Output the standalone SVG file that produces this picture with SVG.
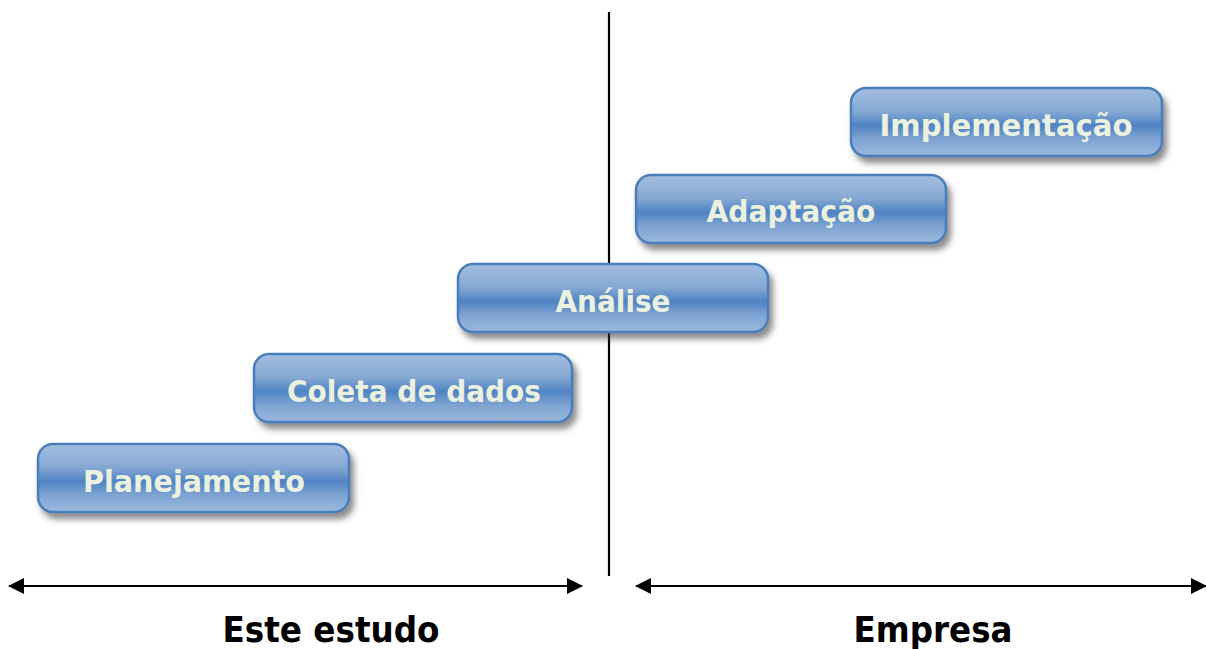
<svg xmlns="http://www.w3.org/2000/svg" width="1206" height="649" viewBox="0 0 1206 649">
<defs>
<linearGradient id="g" x1="0" y1="0" x2="0" y2="1">
<stop offset="0" stop-color="#a3bfe0"/>
<stop offset="0.35" stop-color="#84a7d3"/>
<stop offset="0.55" stop-color="#4f83c3"/>
<stop offset="0.75" stop-color="#7ea3d2"/>
<stop offset="1" stop-color="#9cb9de"/>
</linearGradient>
<filter id="sh" x="-10%" y="-20%" width="130%" height="160%">
<feDropShadow dx="4" dy="6" stdDeviation="3" flood-color="#404040" flood-opacity="0.6"/>
</filter>
<marker id="ah" viewBox="0 0 16 16" refX="15" refY="8" markerWidth="16" markerHeight="16" markerUnits="userSpaceOnUse" orient="auto-start-reverse">
<path d="M0,0 L16,8 L0,16 Z" fill="#000"/>
</marker>
<style>
.box{fill:url(#g);stroke:#4a7ebb;stroke-width:2.5;filter:url(#sh)}
.lbl{font-family:"DejaVu Sans","Verdana",sans-serif;font-weight:bold;font-size:30px;fill:#ebf1de;text-anchor:middle}
.cap{font-family:"DejaVu Sans Condensed","DejaVu Sans",sans-serif;font-weight:bold;font-size:36px;fill:#000;text-anchor:middle}
.ln{stroke:#000;stroke-width:2.2;fill:none}
</style>
</defs>
<rect width="1206" height="649" fill="#fff"/>
<g id="connectors">
<line class="ln" x1="609" y1="12" x2="609" y2="576"/>
<line class="ln" x1="9" y1="586" x2="582" y2="586" marker-start="url(#ah)" marker-end="url(#ah)"/>
<line class="ln" x1="636" y1="586" x2="1206" y2="586" marker-start="url(#ah)" marker-end="url(#ah)"/>
</g>
<g id="planejamento">
<rect class="box" x="38" y="444" width="311" height="68" rx="15"/>
<text class="lbl" x="194" y="492" textLength="222" lengthAdjust="spacingAndGlyphs">Planejamento</text>
</g>
<g id="coleta">
<rect class="box" x="254" y="354" width="318" height="68" rx="15"/>
<text class="lbl" x="414" y="402" textLength="254" lengthAdjust="spacingAndGlyphs">Coleta de dados</text>
</g>
<g id="analise">
<rect class="box" x="458" y="264" width="310" height="68" rx="15"/>
<text class="lbl" x="613" y="312" textLength="115" lengthAdjust="spacingAndGlyphs">Análise</text>
</g>
<g id="adaptacao">
<rect class="box" x="636" y="175" width="310" height="68" rx="15"/>
<text class="lbl" x="791" y="222" textLength="169" lengthAdjust="spacingAndGlyphs">Adaptação</text>
</g>
<g id="implementacao">
<rect class="box" x="851" y="88" width="311" height="68" rx="15"/>
<text class="lbl" x="1006" y="136" textLength="253" lengthAdjust="spacingAndGlyphs">Implementação</text>
</g>
<g id="labels">
<text class="cap" x="331" y="642" textLength="217" lengthAdjust="spacingAndGlyphs">Este estudo</text>
<text class="cap" x="933" y="642" textLength="159" lengthAdjust="spacingAndGlyphs">Empresa</text>
</g>
</svg>
